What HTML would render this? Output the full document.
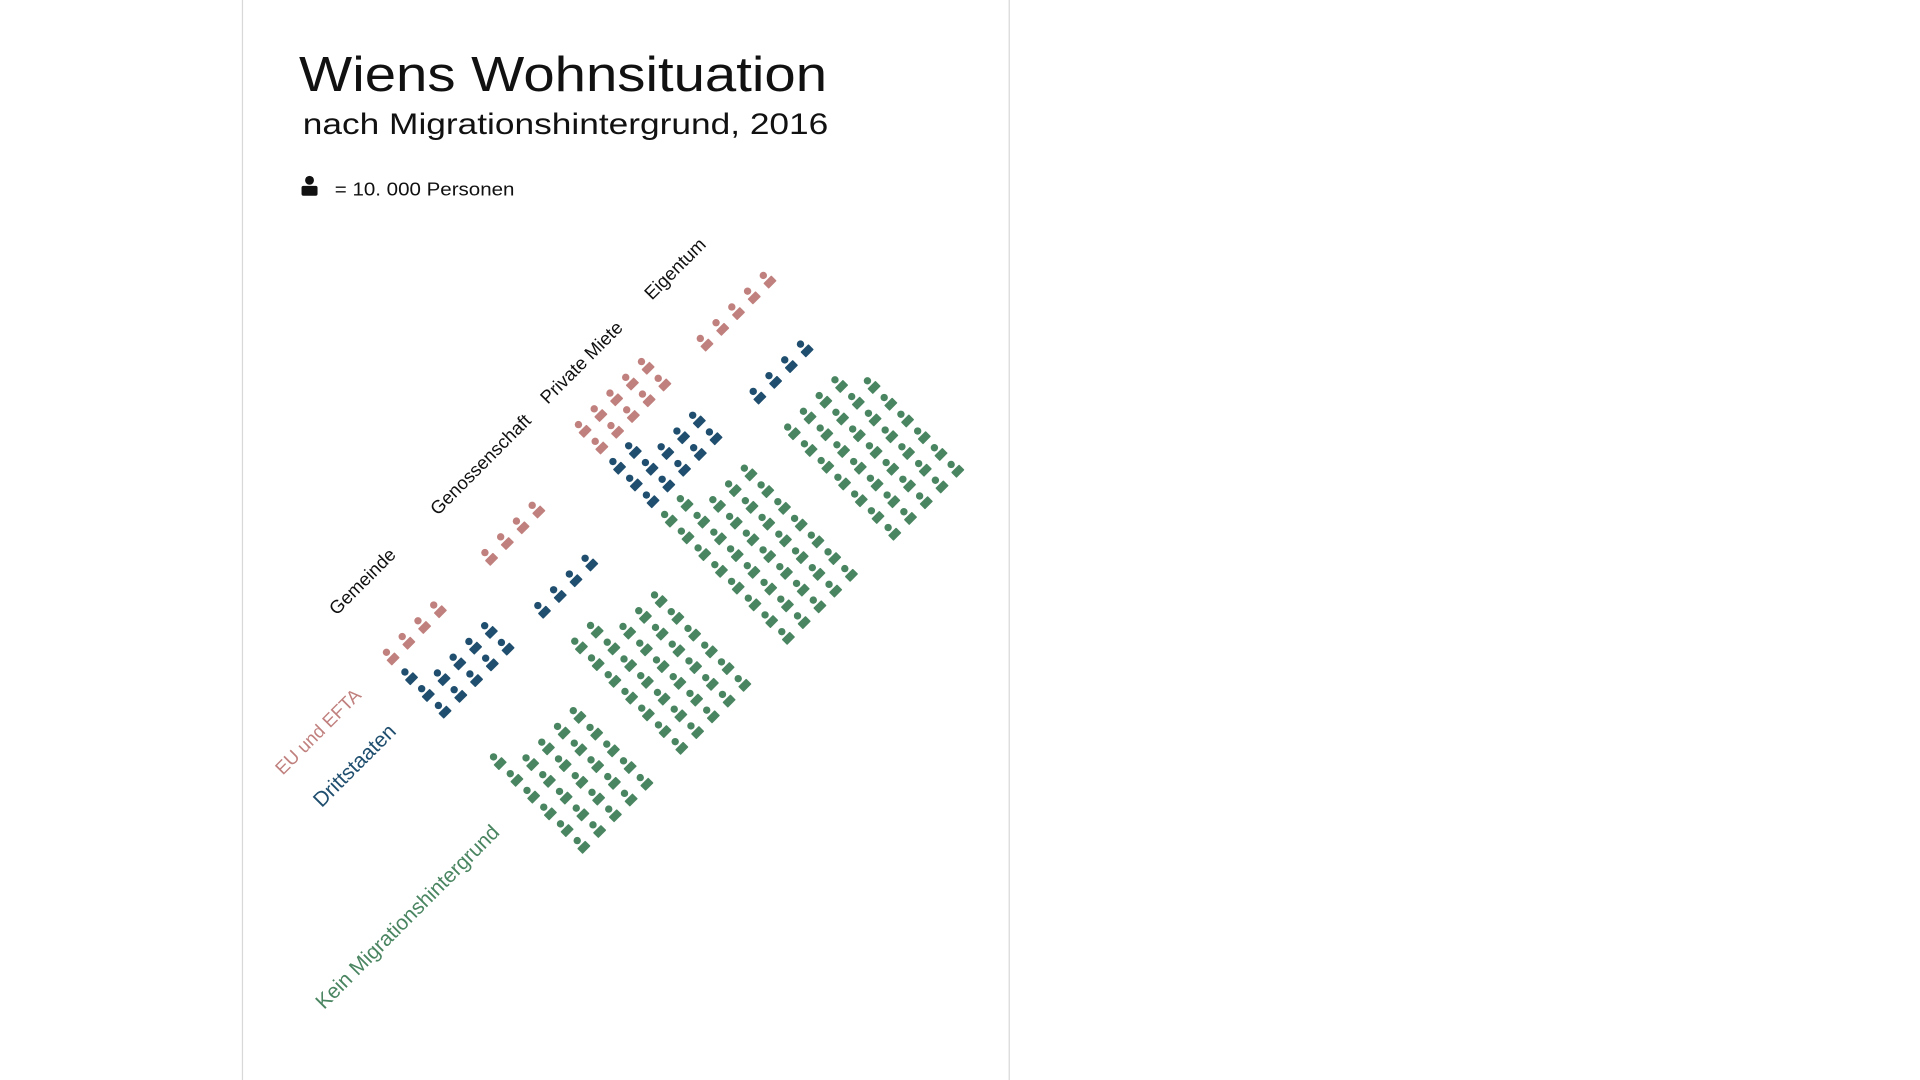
<!DOCTYPE html>
<html><head><meta charset="utf-8"><style>
html,body{margin:0;padding:0;background:#fff;width:1920px;height:1080px;overflow:hidden}
svg{display:block}
text{font-family:"Liberation Sans",sans-serif}
</style></head><body>
<svg id="s" width="1920" height="1080" viewBox="0 0 1560 877.5" xmlns="http://www.w3.org/2000/svg">
<defs>
<g id="p"><circle cx="0" cy="0" r="3"/><rect x="-4.6" y="-3.1" width="9.2" height="6.2" rx="0.6" transform="translate(5.4,5.4) rotate(-45)"/></g>
</defs>
<rect x="197" y="-2" width="623" height="883" fill="#fff" stroke="#d8d8d8" stroke-width="1"/>
<text x="243" y="74" font-size="40" fill="#111" textLength="429" lengthAdjust="spacingAndGlyphs">Wiens Wohnsituation</text>
<text x="246" y="109" font-size="24" fill="#111" textLength="427" lengthAdjust="spacingAndGlyphs">nach Migrationshintergrund, 2016</text>
<g fill="#111"><circle cx="251.5" cy="146.5" r="3.6"/><rect x="245" y="151" width="13" height="8" rx="1.5"/></g>
<text x="272" y="159" font-size="15" fill="#111" textLength="146" lengthAdjust="spacingAndGlyphs">= 10. 000 Personen</text>
<g font-size="15" fill="#111" text-anchor="middle">
<text transform="translate(298,476) rotate(-45)">Gemeinde</text>
<text transform="translate(394,381) rotate(-45)">Genossenschaft</text>
<text transform="translate(476,298) rotate(-45)">Private Miete</text>
<text transform="translate(552,222) rotate(-45)">Eigentum</text>
<text transform="translate(262,598) rotate(-45)" fill="#c0807e">EU und EFTA</text>
<text transform="translate(292,626) rotate(-45)" fill="#1f4e6e" font-size="17">Drittstaaten</text>
<text transform="translate(335,749) rotate(-45)" fill="#4a8561" font-size="17">Kein Migrationshintergrund</text>
</g>
<g id="icons"></g>
</svg>
<script>
var P="#c0807e",B="#1f4e6e",G="#4a8561";
var blocks=[
[P,314,530,4],[P,394,449,4],[P,470,345,10],[P,569,275,5],
[B,329,546,11],[B,437,492,4],[B,498,375,12],[B,612,318,4],
[G,401,615,26],[G,467,521,32],[G,540,418,37],[G,640,347,34]
];
var ux=12.8,uy=-12.8,vx=13.6,vy=13.6;
var g=document.getElementById("icons"),h="";
blocks.forEach(function(b){
 var N=b[3],r=N%5; if(r===0)r=5;
 var rows=[r];var rem=N-r;while(rem>0){rows.push(5);rem-=5;}
 rows.forEach(function(cnt,j){
  for(var i=0;i<cnt;i++){
   var x=b[1]+i*ux+j*vx,y=b[2]+i*uy+j*vy;
   h+='<use href="#p" fill="'+b[0]+'" x="'+x.toFixed(1)+'" y="'+y.toFixed(1)+'"/>';
  }
 });
});
g.innerHTML=h;
</script>
</body></html>
